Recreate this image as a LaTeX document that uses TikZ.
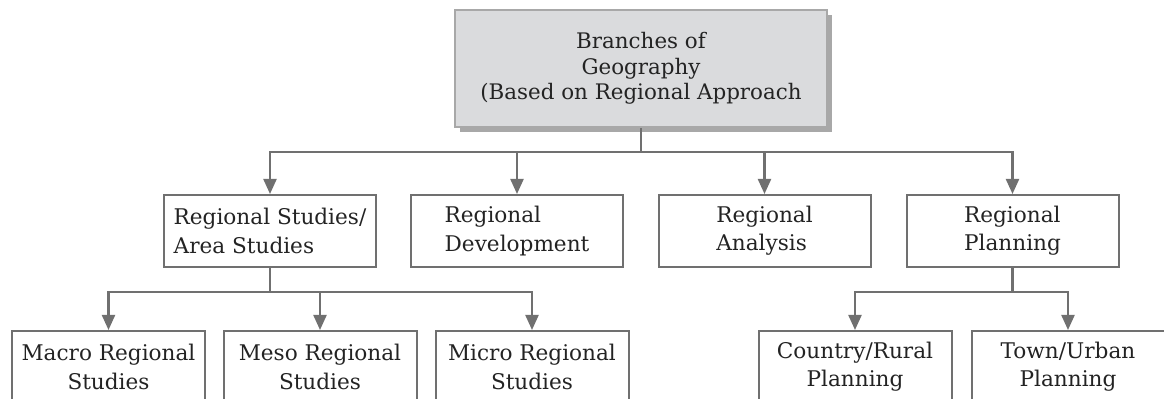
\documentclass[tikz,border=0pt]{standalone}
\usepackage{fontspec}
\setmainfont{DejaVu Serif}
\usepackage{tikz}
\usetikzlibrary{arrows.meta}
\usetikzlibrary{positioning}
\usetikzlibrary{shadows}
\definecolor{linegray}{RGB}{112,112,112}
\definecolor{boxgray}{RGB}{218,219,221}
\definecolor{shadowgray}{RGB}{168,168,168}
\definecolor{textgray}{RGB}{35,35,35}

\begin{document}
\begin{tikzpicture}[x=0.5pt,y=-0.5pt]
      \tikzset{
        branch/.style={draw=linegray, line width=1pt, text=textgray,
            font=\fontsize{10.8}{14.2}\selectfont, inner sep=0pt},
        root box/.style={branch, fill=boxgray, draw=shadowgray, align=center,
            font=\fontsize{10.7}{12.8}\selectfont,
            minimum width=186pt, minimum height=58.5pt,
            drop shadow={shadow xshift=2.5pt, shadow yshift=-2.5pt,
                fill=shadowgray, opacity=1}},
        field box/.style={branch, align=left, minimum width=106pt, minimum height=36pt},
        sub box/.style={branch, align=center, minimum width=96.5pt, minimum height=36pt},
        link/.style={draw=linegray, line width=1.1pt},
        arrow link/.style={link, -{Triangle[width=6.5pt,length=7.5pt]}}
      }

      \def\W{1164} % picture width
      \def\H{399} % picture height
      \path[use as bounding box] (0,0) rectangle (\W,\H);
      \clip (0,0) rectangle (\W,\H);

      % Root
      \node[root box] (root) at (641,68.5) {Branches of\\Geography\\(Based on Regional Approach};

      % Second level
      \node[field box] (area) at (270,231) {Regional Studies/\\Area Studies};
      \node[field box] (dev) at (517,231) {Regional\\Development};
      \node[field box] (ana) at (764.5,231) {Regional\\Analysis};
      \node[field box] (plan) at (1012.5,231) {Regional\\Planning};

      % Third level
      \node[sub box] (macro) at (108.5,367) {Macro Regional\\Studies};
      \node[sub box] (meso) at (320,367) {Meso Regional\\Studies};
      \node[sub box] (micro) at (532,367) {Micro Regional\\Studies};
      \node[sub box] (rural) at (855,367) {Country/Rural\\Planning};
      \node[sub box] (urban) at (1068,367) {Town/Urban\\Planning};

      % Connectors
      \coordinate (j1) at (641,152);
      \coordinate (j2) at (270,292);
      \coordinate (j3) at (1012.5,292);
      \draw[link] (root.south) -- (j1);
      \foreach \n in {area,dev,ana,plan}
        \draw[arrow link] (j1) -| (\n.north);
      \draw[link] (area.south) -- (j2);
      \foreach \n in {macro,meso,micro}
        \draw[arrow link] (j2) -| (\n.north);
      \draw[link] (plan.south) -- (j3);
      \foreach \n in {rural,urban}
        \draw[arrow link] (j3) -| (\n.north);
    \end{tikzpicture}
\end{document}
